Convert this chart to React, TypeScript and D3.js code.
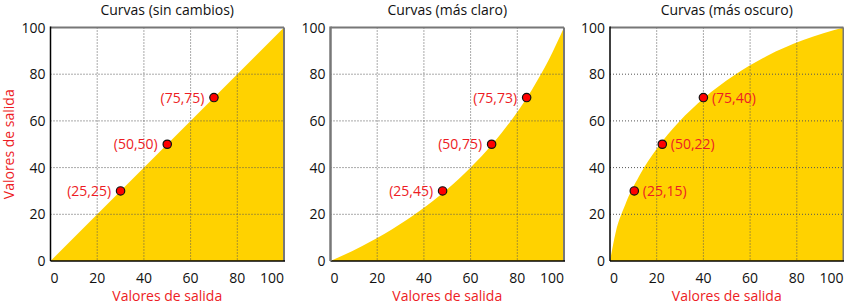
import React from "react";
import * as d3 from "d3";

const titles = ["Curvas (sin cambios)", "Curvas (más claro)", "Curvas (más oscuro)"];
const axisLabel = "Valores de salida";
const ticks = [0, 20, 40, 60, 80, 100];
const gridTicks = [20, 40, 60, 80];

const curveX1 = [0, 100];
const curveY1 = [0, 100];
const curveX2 = [0, 13.6, 26.4, 38.4, 49.6, 60, 69.6, 78.4, 86.4, 93.6, 100];
const curveY2 = [0, 6.4, 13.6, 21.6, 30.4, 40, 50.4, 61.6, 73.6, 86.4, 100];
const curveX3 = [0, 2.4, 6.6, 12.5, 20.1, 29.4, 40.3, 52.9, 67, 82.8, 100];
const curveY3 = [0, 12.1, 24.3, 36.4, 48.2, 59.4, 69.8, 79.3, 87.7, 94.6, 100];

const dotX1 = [30, 50, 70];
const dotY1 = [30, 50, 70];
const dotLabels1 = ["(25,25)", "(50,50)", "(75,75)"];
const dotX2 = [48, 69, 84];
const dotY2 = [30, 50, 70];
const dotLabels2 = ["(25,45)", "(50,75)", "(75,73)"];
const dotX3 = [10.4, 22.4, 40];
const dotY3 = [30, 50, 70];
const dotLabels3 = ["(25,15)", "(50,22)", "(75,40)"];

const FONT = "'Open Sans', sans-serif";
const RED = "#ed1c24";
const GOLD = "#ffd200";

type PanelProps = {
  x0: number;
  title: string;
  cx: number[];
  cy: number[];
  dx: number[];
  dy: number[];
  labels: string[];
  labelSide: "left" | "right";
  leftColor: string;
  showYLabel: boolean;
};

function Panel(p: PanelProps) {
  const x = d3.scaleLinear().domain([0, 100]).range([p.x0, p.x0 + 233.5]);
  const y = d3.scaleLinear().domain([0, 100]).range([261, 27.5]);
  const pts = p.cx.map((v, i) => [v, p.cy[i]] as [number, number]);
  const area = d3
    .area<[number, number]>()
    .x((d) => x(d[0]))
    .y0(y(0))
    .y1((d) => y(d[1]))
    .curve(d3.curveMonotoneX);
  const [L, R] = x.range();
  const [B, T] = y.range();
  const mid = (L + R) / 2;
  return (
    <g>
      <text x={mid} y={15} textAnchor="middle" fontSize={14} fill="#111" fontFamily={FONT}>
        {p.title}
      </text>
      <rect x={L} y={T} width={R - L} height={B - T} fill="#fff" />
      <path d={area(pts) || ""} fill={GOLD} />
      {gridTicks.map((t) => (
        <g key={t}>
          <line x1={x(t)} x2={x(t)} y1={T} y2={B} stroke="#555" strokeWidth={1} strokeDasharray="1 2" />
          <line x1={L} x2={R} y1={y(t)} y2={y(t)} stroke="#555" strokeWidth={1} strokeDasharray="1 2" />
        </g>
      ))}
      <line x1={L} x2={R} y1={T} y2={T} stroke="#777" strokeWidth={2} />
      <line x1={R} x2={R} y1={T} y2={B} stroke="#777" strokeWidth={2} />
      <line x1={L} x2={R + 1} y1={B} y2={B} stroke="#000" strokeWidth={1.5} />
      <line x1={L} x2={L} y1={T - 1} y2={B} stroke={p.leftColor} strokeWidth={p.leftColor === "#000" ? 1.5 : 2.5} />
      {ticks.map((t, i) => (
        <text
          key={"x" + t}
          x={x(t)}
          y={283}
          textAnchor={i === 0 ? "start" : i === ticks.length - 1 ? "end" : "middle"}
          fontSize={14}
          fill="#111"
          fontFamily={FONT}
        >
          {t}
        </text>
      ))}
      {ticks.map((t) => (
        <text
          key={"y" + t}
          x={L - 5}
          y={y(t)}
          dy="0.36em"
          textAnchor="end"
          fontSize={14}
          fill="#111"
          fontFamily={FONT}
        >
          {t}
        </text>
      ))}
      <text x={mid} y={301} textAnchor="middle" fontSize={14} fill={RED} fontFamily={FONT}>
        {axisLabel}
      </text>
      {p.showYLabel && (
        <text
          transform={`translate(14,${(T + B) / 2}) rotate(-90)`}
          textAnchor="middle"
          fontSize={14}
          fill={RED}
          fontFamily={FONT}
        >
          {axisLabel}
        </text>
      )}
      {p.dx.map((v, i) => (
        <g key={"d" + i}>
          <circle cx={x(v)} cy={y(p.dy[i])} r={4.2} fill="#f00" stroke="#111" strokeWidth={1.2} />
          <text
            x={p.labelSide === "left" ? x(v) - 9.5 : x(v) + 8.5}
            y={y(p.dy[i])}
            dy="0.36em"
            textAnchor={p.labelSide === "left" ? "end" : "start"}
            fontSize={14}
            fill={RED}
            fontFamily={FONT}
          >
            {p.labels[i]}
          </text>
        </g>
      ))}
    </g>
  );
}

export default function App() {
  return (
    <svg
      width={844}
      height={305}
      style={{ position: "absolute", left: 0, top: 0, background: "#fff" }}
    >
      <Panel x0={50.5} title={titles[0]} cx={curveX1} cy={curveY1} dx={dotX1} dy={dotY1} labels={dotLabels1} labelSide="left" leftColor="#000" showYLabel={true} />
      <Panel x0={330.5} title={titles[1]} cx={curveX2} cy={curveY2} dx={dotX2} dy={dotY2} labels={dotLabels2} labelSide="left" leftColor="#777" showYLabel={false} />
      <Panel x0={610} title={titles[2]} cx={curveX3} cy={curveY3} dx={dotX3} dy={dotY3} labels={dotLabels3} labelSide="right" leftColor="#000" showYLabel={false} />
    </svg>
  );
}
